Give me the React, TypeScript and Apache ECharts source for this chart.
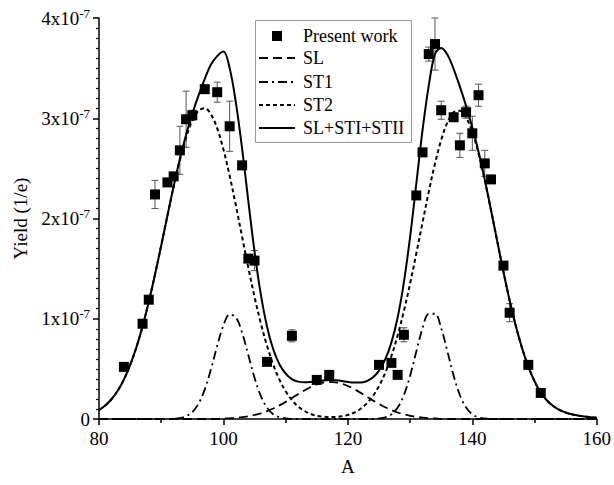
import { useEffect, useRef } from "react";
import * as echarts from "echarts";

// Yield values in units of 1e-7 (1/e)
const curveA = [
  80, 81, 82, 83, 84, 85, 86, 87, 88, 89, 90, 91, 92, 93, 94, 95, 96, 97, 98, 99,
  100, 101, 102, 103, 104, 105, 106, 107, 108, 109, 110, 111, 112, 113, 114, 115, 116, 117, 118, 119,
  120, 121, 122, 123, 124, 125, 126, 127, 128, 129, 130, 131, 132, 133, 134, 135, 136, 137, 138, 139,
  140, 141, 142, 143, 144, 145, 146, 147, 148, 149, 150, 151, 152, 153, 154, 155, 156, 157, 158, 159, 160,
];

const slCurve = [
  0, 0, 0, 0, 0, 0, 0, 0, 0, 0, 0, 0, 0, 0, 0, 0, 0, 0, 0, 0,
  0.005, 0.007, 0.012, 0.018, 0.028, 0.041, 0.057, 0.079, 0.105, 0.136,
  0.171, 0.209, 0.248, 0.285, 0.318, 0.344, 0.362, 0.37, 0.366, 0.353,
  0.329, 0.299, 0.263, 0.224, 0.186, 0.15, 0.117, 0.089, 0.065, 0.047,
  0.032, 0.022, 0.014, 0.009, 0.006,
  0, 0, 0, 0, 0, 0, 0, 0, 0, 0, 0, 0, 0, 0, 0, 0, 0, 0, 0, 0, 0, 0, 0, 0, 0, 0,
];

const st1Curve = [
  0, 0, 0, 0, 0, 0, 0, 0, 0, 0, 0, 0,
  0.003, 0.009, 0.027, 0.069, 0.153, 0.295, 0.497, 0.73, 0.935, 1.043,
  1.015, 0.861, 0.637, 0.411, 0.231, 0.113, 0.048, 0.018, 0.006,
  0, 0, 0, 0, 0, 0, 0, 0, 0, 0, 0, 0, 0, 0,
  0.005, 0.017, 0.047, 0.114, 0.239, 0.432, 0.674, 0.906, 1.05, 1.05,
  0.906, 0.674, 0.432, 0.239, 0.114, 0.047, 0.017, 0.005,
  0, 0, 0, 0, 0, 0, 0, 0, 0, 0, 0, 0, 0, 0, 0, 0, 0, 0,
];

const st2Curve = [
  0.089, 0.134, 0.197, 0.282, 0.393, 0.537, 0.713, 0.924, 1.169, 1.441,
  1.731, 2.029, 2.319, 2.584, 2.809, 2.976, 3.075, 3.099, 3.039, 2.899,
  2.689, 2.426, 2.129, 1.818, 1.509, 1.218, 0.957, 0.731, 0.543, 0.392,
  0.276, 0.189, 0.125, 0.081, 0.051, 0.031, 0.023, 0.019, 0.02, 0.027,
  0.04, 0.064, 0.1, 0.153, 0.227, 0.328, 0.46, 0.628, 0.834, 1.077,
  1.352, 1.651, 1.961, 2.266, 2.547, 2.783, 2.959, 3.059, 3.076, 3.009,
  2.862, 2.648, 2.383, 2.085, 1.775, 1.469, 1.183, 0.927, 0.706, 0.523,
  0.377, 0.264, 0.185, 0.13, 0.09, 0.065, 0.047, 0.034, 0.025, 0.018, 0.013,
];

const totalCurve = [
  0.089, 0.134, 0.197, 0.282, 0.393, 0.537, 0.713, 0.924, 1.169, 1.441,
  1.731, 2.029, 2.322, 2.593, 2.836, 3.045, 3.228, 3.394, 3.536, 3.62,
  3.665, 3.5, 3.156, 2.697, 2.174, 1.67, 1.245, 0.923, 0.696, 0.546,
  0.453, 0.398, 0.373, 0.366, 0.369, 0.375, 0.385, 0.389, 0.386, 0.38,
  0.369, 0.363, 0.363, 0.377, 0.413, 0.483, 0.594, 0.764, 1.013, 1.363,
  1.816, 2.347, 2.881, 3.325, 3.64, 3.7, 3.633, 3.491, 3.315, 3.123,
  2.909, 2.665, 2.388, 2.085, 1.775, 1.469, 1.183, 0.927, 0.706, 0.523,
  0.377, 0.264, 0.185, 0.13, 0.09, 0.065, 0.047, 0.034, 0.025, 0.018, 0.013,
];

const pointA = [
  84, 87, 88, 89, 91, 92, 93, 94, 95, 97, 99, 101, 103, 104, 105, 107, 111, 115, 117,
  125, 127, 128, 129, 131, 132, 133, 134, 135, 137, 138, 139, 140, 141, 142, 143, 145, 146, 149, 151,
];
const pointY = [
  0.52, 0.95, 1.19, 2.24, 2.36, 2.42, 2.68, 2.99, 3.03, 3.29, 3.26, 2.92, 2.53, 1.6, 1.58, 0.57, 0.83, 0.39, 0.44,
  0.54, 0.56, 0.44, 0.84, 2.23, 2.66, 3.64, 3.74, 3.08, 3.01, 2.73, 3.06, 2.85, 3.23, 2.55, 2.39, 1.53, 1.06, 0.54, 0.26,
];
const pointErr = [
  0, 0, 0.03, 0.14, 0.03, 0.04, 0.24, 0.28, 0.05, 0.02, 0.1, 0.25, 0, 0.02, 0.1, 0.02, 0.06, 0.02, 0.02,
  0.02, 0.03, 0.02, 0.07, 0.02, 0.02, 0.07, 0.26, 0.09, 0.04, 0.12, 0.06, 0.17, 0.11, 0.13, 0.03, 0.02, 0.09, 0.03, 0.02,
];

const seriesNames = ["Present work", "SL", "ST1", "ST2", "SL+STI+STII"];
const Y_EXP = "-7";

const FONT = "'Liberation Serif', 'Times New Roman', serif";

export default function App() {
  const ref = useRef<HTMLDivElement>(null);
  useEffect(() => {
    const chart = echarts.init(ref.current!, null, { renderer: "svg" });
    const pair = (ys: number[]) => curveA.map((a, i) => [a, ys[i]]);
    const lineSeries = (name: string, ys: number[], type: any, width: number) => ({
      name,
      type: "line",
      data: pair(ys),
      showSymbol: false,
      smooth: 0.35,
      z: 3,
      silent: true,
      lineStyle: { color: "#000", width, type },
    });
    const legendY = [36, 58, 82, 105, 128];
    const dashes: any[] = [null, [9, 5], [9, 4, 2, 4], [4, 3], null];
    const legendChildren: any[] = [
      {
        type: "rect",
        shape: { x: 255.5, y: 20.5, width: 156, height: 122 },
        style: { fill: "#fff", stroke: "#999", lineWidth: 1 },
      },
      {
        type: "rect",
        shape: { x: 272, y: legendY[0] - 5, width: 10, height: 10 },
        style: { fill: "#000" },
      },
    ];
    for (let i = 1; i < 5; i++) {
      legendChildren.push({
        type: "line",
        shape: { x1: 259, y1: legendY[i], x2: 295, y2: legendY[i] },
        style: { stroke: "#000", lineWidth: 2, lineDash: dashes[i] || undefined },
      });
    }
    seriesNames.forEach((n, i) => {
      legendChildren.push({
        type: "text",
        style: {
          text: n,
          x: 303,
          y: legendY[i],
          fill: "#000",
          font: `18px ${FONT}`,
          verticalAlign: "middle",
          textVerticalAlign: "middle",
        },
      });
    });

    chart.setOption({
      animation: false,
      backgroundColor: "#fff",
      grid: { left: 99, right: 17, top: 18, bottom: 66, containLabel: false },
      xAxis: {
        type: "value",
        min: 80,
        max: 160,
        interval: 20,
        name: "A",
        nameLocation: "middle",
        nameGap: 38,
        nameTextStyle: { fontFamily: FONT, fontSize: 19, color: "#000" },
        axisLine: { lineStyle: { color: "#000", width: 1.5 } },
        axisTick: { inside: false, length: 6, lineStyle: { color: "#000", width: 1.5 } },
        minorTick: { show: true, splitNumber: 2, length: 4, lineStyle: { color: "#000", width: 1.5 } },
        splitLine: { show: false },
        axisLabel: { fontFamily: FONT, fontSize: 19, color: "#000", margin: 10 },
      },
      yAxis: {
        type: "value",
        min: 0,
        max: 4,
        interval: 1,
        name: "Yield (1/e)",
        nameLocation: "middle",
        nameGap: 58,
        nameRotate: 90,
        nameTextStyle: { fontFamily: FONT, fontSize: 19, color: "#000" },
        axisLine: { show: true, lineStyle: { color: "#000", width: 1.5 } },
        axisTick: { show: true, inside: false, length: 6, lineStyle: { color: "#000", width: 1.5 } },
        minorTick: { show: true, splitNumber: 10, length: 3, lineStyle: { color: "#000", width: 1.2 } },
        splitLine: { show: false },
        axisLabel: {
          margin: 9,
          fontFamily: FONT,
          fontSize: 19,
          color: "#000",
          formatter: (v: number) => (v === 0 ? "{b|0}" : `{b|${v}x10}{s|${Y_EXP}}`),
          rich: {
            b: { fontFamily: FONT, fontSize: 19, color: "#000" },
            s: { fontFamily: FONT, fontSize: 13, color: "#000", padding: [0, 0, 10, 0] },
          },
        },
      },
      series: [
        {
          name: "errors",
          type: "custom",
          z: 2,
          silent: true,
          data: pointA.map((a, i) => [a, pointY[i], pointErr[i]]),
          renderItem: (_params: any, api: any) => {
            const x = api.value(0);
            const y = api.value(1);
            const e = api.value(2);
            if (!e) return { type: "group", children: [] };
            const top = api.coord([x, y + e]);
            const bot = api.coord([x, y - e]);
            const st = { stroke: "#555", lineWidth: 1 };
            return {
              type: "group",
              children: [
                { type: "line", shape: { x1: top[0], y1: top[1], x2: bot[0], y2: bot[1] }, style: st },
                { type: "line", shape: { x1: top[0] - 3.5, y1: top[1], x2: top[0] + 3.5, y2: top[1] }, style: st },
                { type: "line", shape: { x1: bot[0] - 3.5, y1: bot[1], x2: bot[0] + 3.5, y2: bot[1] }, style: st },
              ],
            };
          },
        },
        lineSeries(seriesNames[1], slCurve, [9, 5], 1.8),
        lineSeries(seriesNames[2], st1Curve, [9, 4, 2, 4], 1.8),
        lineSeries(seriesNames[3], st2Curve, [4, 3], 2),
        lineSeries(seriesNames[4], totalCurve, "solid", 2),
        {
          name: seriesNames[0],
          type: "scatter",
          symbol: "rect",
          symbolSize: 10,
          z: 5,
          silent: true,
          itemStyle: { color: "#000", opacity: 1 },
          data: pointA.map((a, i) => [a, pointY[i]]),
        },
      ],
      graphic: [{ type: "group", z: 100, children: legendChildren }],
    });
    return () => chart.dispose();
  }, []);
  return (
    <div
      ref={ref}
      style={{ position: "fixed", left: 0, top: 0, width: 614, height: 485, background: "#fff" }}
    />
  );
}
